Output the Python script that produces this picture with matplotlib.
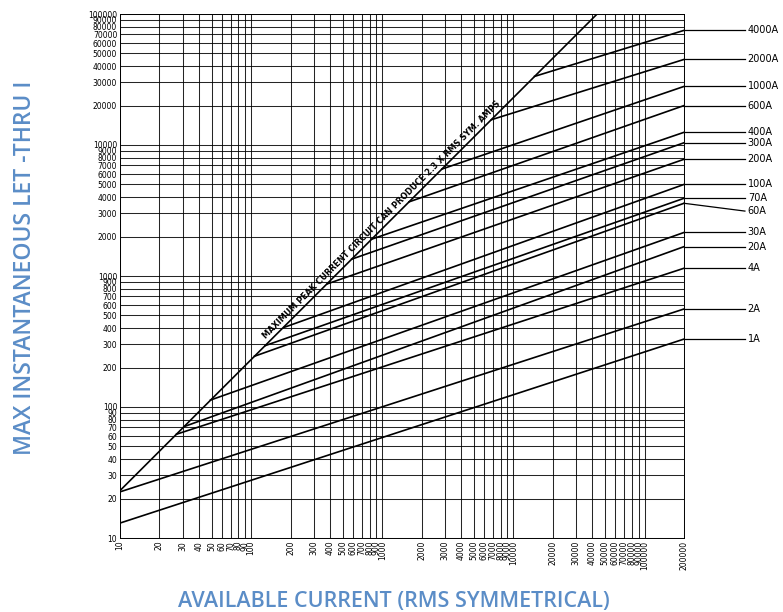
import matplotlib
matplotlib.use('Agg')
import matplotlib.pyplot as plt

# fuse let-thru lines: start point (on the peak line or at x=10) and value at 200000 A
fuse_labels = ['1A', '2A', '4A', '20A', '30A', '60A', '70A', '100A', '200A',
               '300A', '400A', '600A', '1000A', '2000A', '4000A']
start_x = [10, 10, 27, 31, 49, 106, 128, 178, 380, 585, 830, 1600, 2850, 6800, 14500]
start_y = [13, 22.5, 62, 71, 113, 244, 294, 405, 870, 1345, 1910, 3680, 6550, 15600, 33400]
end_x = 200000
end_y = [330, 560, 1146, 1675, 2150, 3590, 3920, 5000, 7780, 10400, 12500,
         20000, 28000, 45000, 75000]
label_y = [330, 560, 1146, 1675, 2150, 3130, 3920, 5000, 7780, 10400, 12500,
           20000, 28000, 45000, 75000]

# maximum peak = 2.3 x rms
peak_x = [10, 43478]
peak_y = [23, 100000]

ticks = []
for d in [10, 100, 1000, 10000]:
    ticks += [d * k for k in range(1, 10)]
xticks = ticks + [100000, 200000]
yticks = ticks + [100000]

blue = '#5b8dc7'

fig = plt.figure(figsize=(7.83, 6.12), dpi=100)
ax = fig.add_axes([120/783, 74/612, 564/783, 524/612])
ax.set_xscale('log')
ax.set_yscale('log')
ax.set_xlim(10, 200000)
ax.set_ylim(10, 100000)

ax.set_xticks(xticks)
ax.set_xticklabels([str(t) for t in xticks], rotation=90, fontsize=5.5)
ax.set_xticks([], minor=True)
ax.set_yticks(yticks)
ax.set_yticklabels([str(t) for t in yticks], fontsize=5.5)
ax.set_yticks([], minor=True)
ax.tick_params(length=0, pad=2)
ax.grid(True, color='black', linewidth=0.75, alpha=0.85)
for s in ax.spines.values():
    s.set_linewidth(0.7)

ax.plot(peak_x, peak_y, color='black', lw=1.2)
ax.text(1040, 2300 * 1.1, 'MAXIMUM PEAK CURRENT CIRCUIT CAN PRODUCE 2.3 X RMS SYM. AMPS',
        rotation=45, rotation_mode='anchor', ha='center', va='bottom',
        fontsize=5.9, fontweight='bold')

tr = ax.get_yaxis_transform()
for i in range(len(fuse_labels)):
    ax.plot([start_x[i], end_x], [start_y[i], end_y[i]], color='black', lw=1.2)
    ax.plot([1.0, 1.108], [end_y[i], label_y[i]], color='black', lw=0.9,
            transform=tr, clip_on=False)
    ax.text(1.113, label_y[i], fuse_labels[i], transform=tr, fontsize=7,
            ha='left', va='center')

fig.text(25/783, 1 - 268/612, 'MAX INSTANTANEOUS LET -THRU I', rotation=90,
         ha='center', va='center', color=blue, fontsize=16.5, family='Open Sans',
         fontweight='semibold')
fig.text(394/783, 1 - 601/612, 'AVAILABLE CURRENT (RMS SYMMETRICAL)',
         ha='center', va='center', color=blue, fontsize=15.5, family='Open Sans',
         fontweight='semibold')

fig.savefig('out.png', dpi=100)
